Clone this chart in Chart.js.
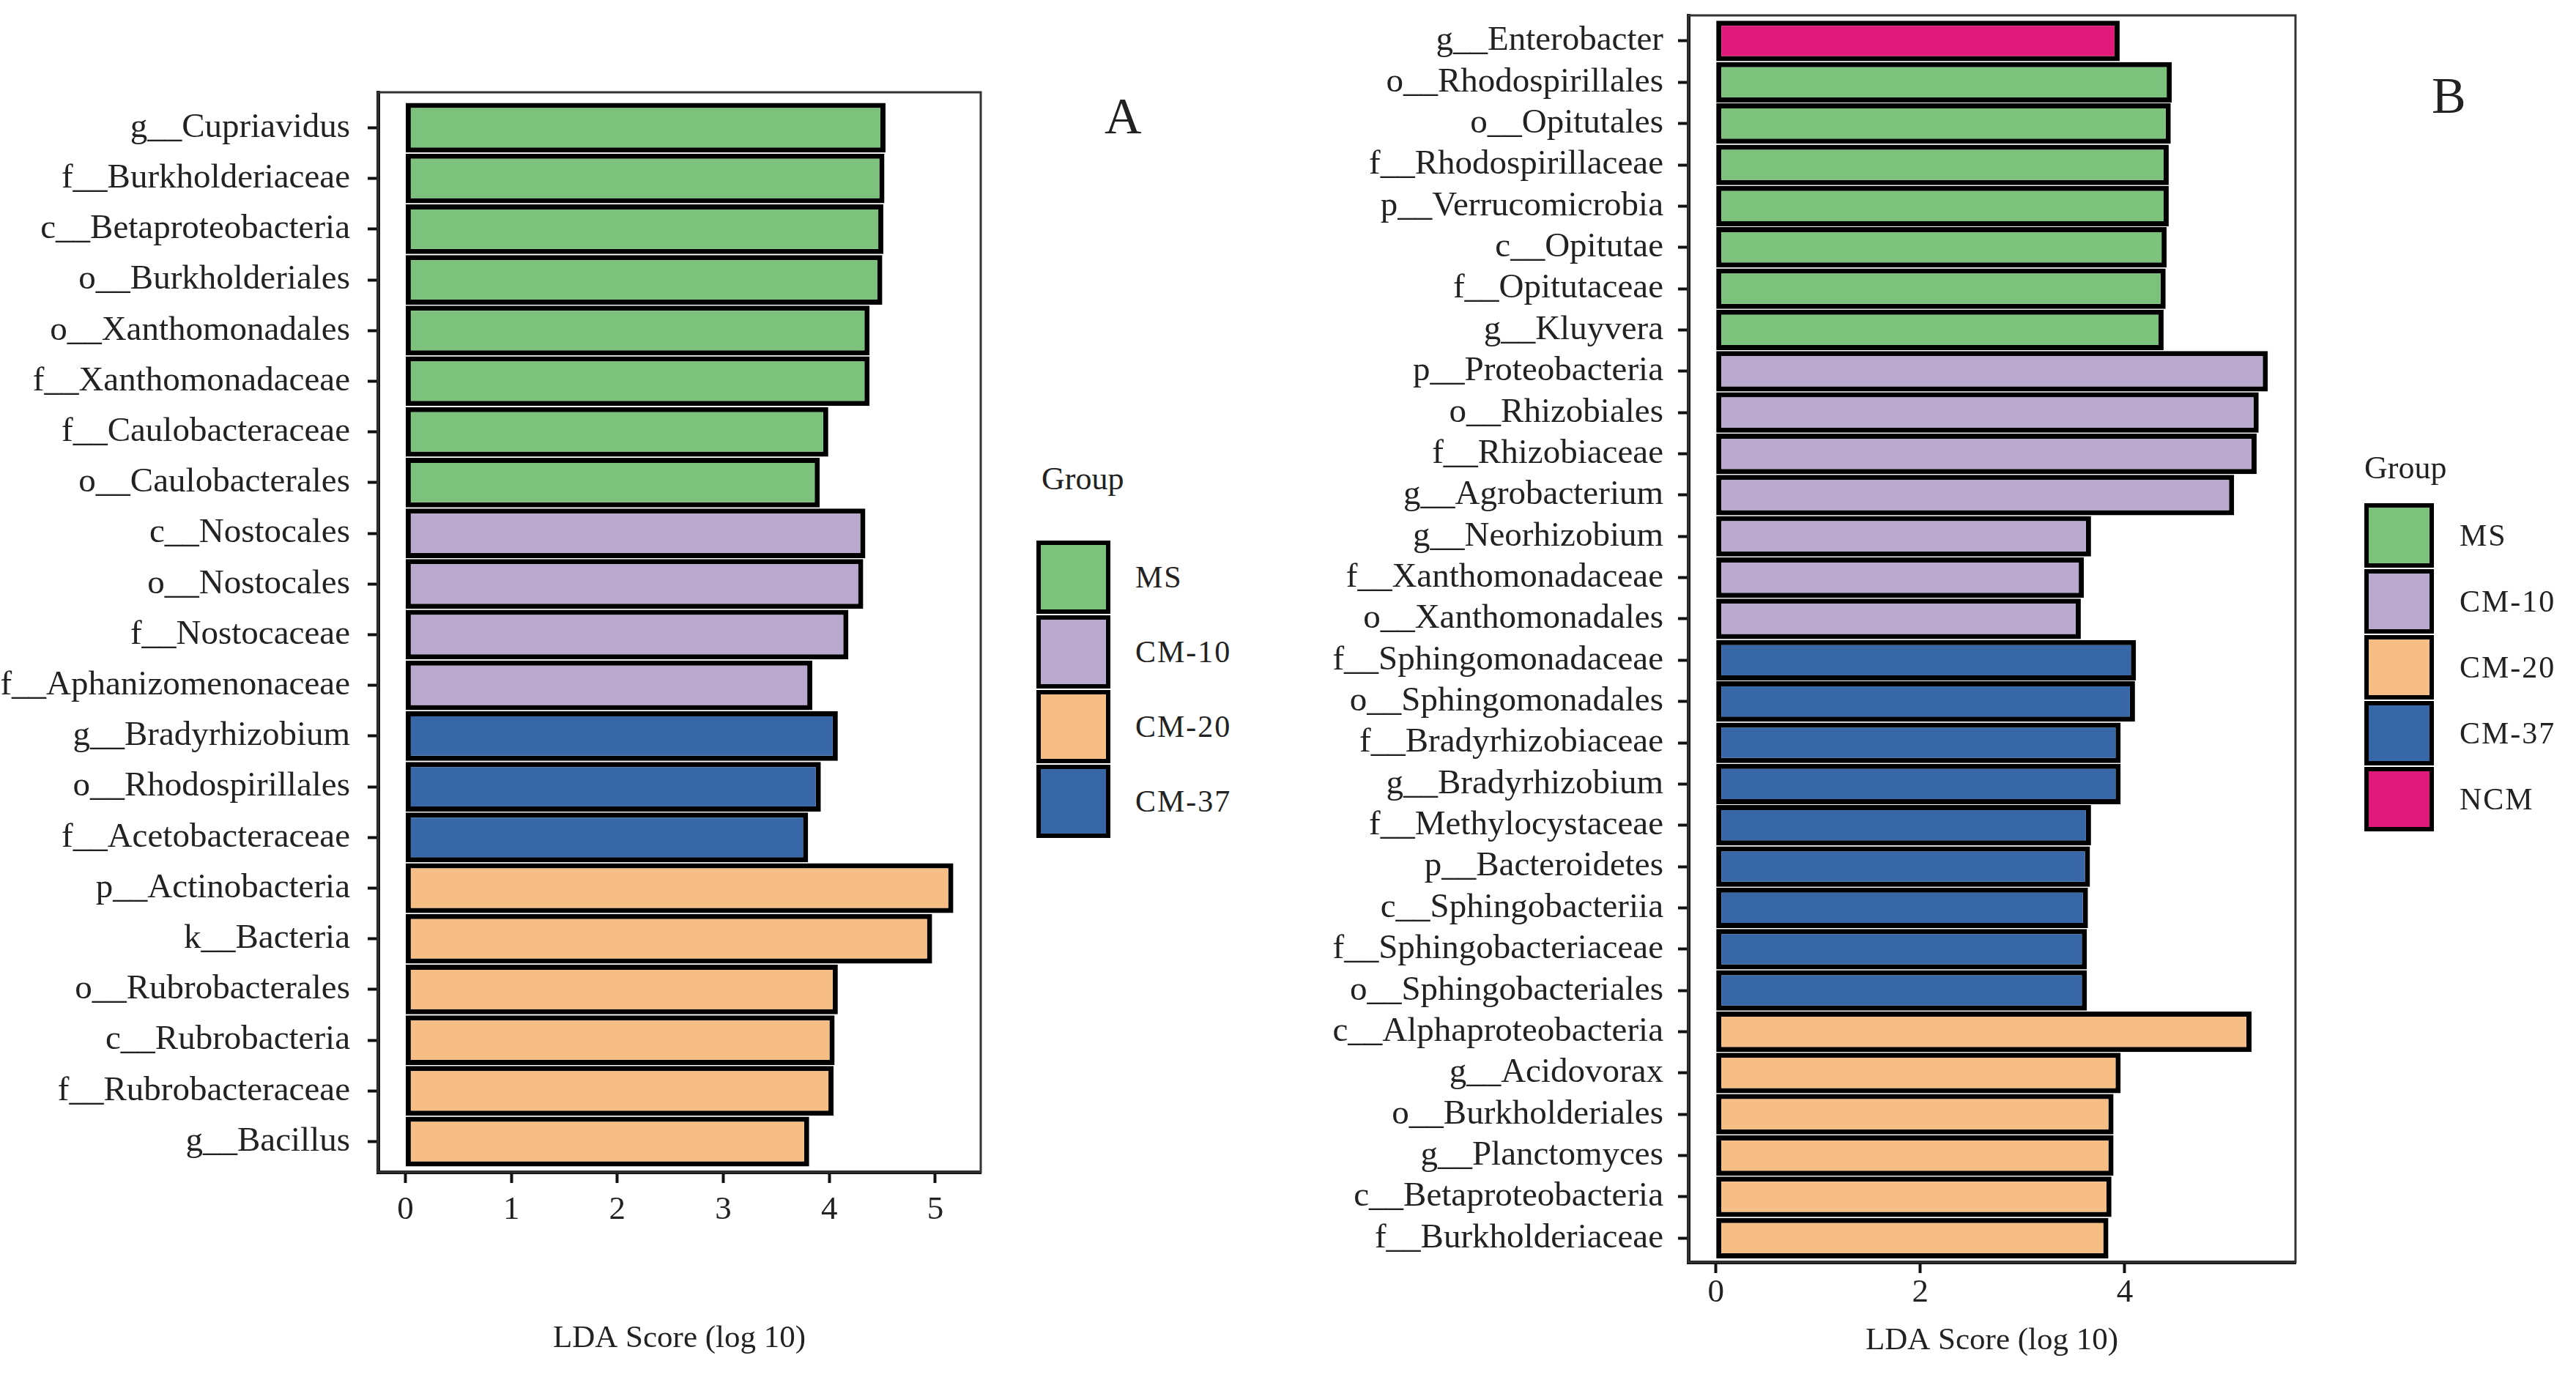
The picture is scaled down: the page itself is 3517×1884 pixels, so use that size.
<!DOCTYPE html>
<html>
<head>
<meta charset="utf-8">
<script src="https://cdn.jsdelivr.net/npm/chart.js@4.4.1/dist/chart.umd.min.js"></script>
<style>
  body { margin: 0; background: #fff; width: 3517px; height: 1884px; position: relative; overflow: hidden; font-family: "Liberation Serif", serif; color: #222; }
  canvas { position: absolute; top: 0; }
  #chartA { left: 0; }
  #chartB { left: 1700px; }
  .panel { position: absolute; font-size: 70px; line-height: 1; }
  .gtitle { position: absolute; font-size: 44px; line-height: 1; }
  .key { position: absolute; box-sizing: border-box; border: 6px solid #000; }
  .ktext { position: absolute; font-size: 42px; line-height: 1; letter-spacing: 2px; }
</style>
</head>
<body>
<canvas id="chartA" width="1400" height="1884"></canvas>
<canvas id="chartB" width="1817" height="1884"></canvas>
<div id="legends"></div>
<script>
// group colours
const groupNames = ['MS', 'CM-10', 'CM-20', 'CM-37', 'NCM'];
const groupColors = ['#7cc27c', '#b9a9cf', '#f6bd85', '#3767a6', '#e0197a'];

// panel A
const taxaA = ['g__Cupriavidus', 'f__Burkholderiaceae', 'c__Betaproteobacteria', 'o__Burkholderiales',
  'o__Xanthomonadales', 'f__Xanthomonadaceae', 'f__Caulobacteraceae', 'o__Caulobacterales',
  'c__Nostocales', 'o__Nostocales', 'f__Nostocaceae', 'f__Aphanizomenonaceae',
  'g__Bradyrhizobium', 'o__Rhodospirillales', 'f__Acetobacteraceae',
  'p__Actinobacteria', 'k__Bacteria', 'o__Rubrobacterales', 'c__Rubrobacteria', 'f__Rubrobacteraceae', 'g__Bacillus'];
const ldaA = [4.53, 4.52, 4.51, 4.50, 4.38, 4.38, 3.99, 3.91,
  4.34, 4.32, 4.18, 3.84,
  4.08, 3.92, 3.80,
  5.17, 4.97, 4.08, 4.05, 4.04, 3.81];
const groupA = ['MS', 'MS', 'MS', 'MS', 'MS', 'MS', 'MS', 'MS',
  'CM-10', 'CM-10', 'CM-10', 'CM-10',
  'CM-37', 'CM-37', 'CM-37',
  'CM-20', 'CM-20', 'CM-20', 'CM-20', 'CM-20', 'CM-20'];
const xTicksA = [0, 1, 2, 3, 4, 5];
const legendA = ['MS', 'CM-10', 'CM-20', 'CM-37'];

// panel B
const taxaB = ['g__Enterobacter', 'o__Rhodospirillales', 'o__Opitutales', 'f__Rhodospirillaceae',
  'p__Verrucomicrobia', 'c__Opitutae', 'f__Opitutaceae', 'g__Kluyvera',
  'p__Proteobacteria', 'o__Rhizobiales', 'f__Rhizobiaceae', 'g__Agrobacterium',
  'g__Neorhizobium', 'f__Xanthomonadaceae', 'o__Xanthomonadales',
  'f__Sphingomonadaceae', 'o__Sphingomonadales', 'f__Bradyrhizobiaceae', 'g__Bradyrhizobium',
  'f__Methylocystaceae', 'p__Bacteroidetes', 'c__Sphingobacteriia', 'f__Sphingobacteriaceae', 'o__Sphingobacteriales',
  'c__Alphaproteobacteria', 'g__Acidovorax', 'o__Burkholderiales', 'g__Planctomyces',
  'c__Betaproteobacteria', 'f__Burkholderiaceae'];
const ldaB = [3.95, 4.46, 4.45, 4.43, 4.43, 4.41, 4.40, 4.38,
  5.40, 5.31, 5.29, 5.07, 3.67, 3.60, 3.57,
  4.11, 4.10, 3.96, 3.96, 3.67, 3.66, 3.64, 3.63, 3.63,
  5.24, 3.96, 3.89, 3.89, 3.87, 3.84];
const groupB = ['NCM', 'MS', 'MS', 'MS', 'MS', 'MS', 'MS', 'MS',
  'CM-10', 'CM-10', 'CM-10', 'CM-10', 'CM-10', 'CM-10', 'CM-10',
  'CM-37', 'CM-37', 'CM-37', 'CM-37', 'CM-37', 'CM-37', 'CM-37', 'CM-37', 'CM-37',
  'CM-20', 'CM-20', 'CM-20', 'CM-20', 'CM-20', 'CM-20'];
const xTicksB = [0, 2, 4];
const legendB = ['MS', 'CM-10', 'CM-20', 'CM-37', 'NCM'];

const colorOf = g => groupColors[groupNames.indexOf(g)];
const FONT = 'Liberation Serif';

// thin frame on top and right, like the ggplot panel border
const framePlugin = {
  id: 'frame',
  afterDraw(chart) {
    const a = chart.chartArea, ctx = chart.ctx;
    ctx.save();
    ctx.strokeStyle = '#333';
    ctx.lineWidth = 3;
    ctx.strokeRect(a.left, a.top, a.right - a.left, a.bottom - a.top);
    ctx.restore();
  }
};

function makeChart(id, taxa, vals, groups, xTicks, opt) {
  const n = taxa.length;
  const top = Math.max(...vals);
  return new Chart(document.getElementById(id), {
    type: 'bar',
    data: {
      datasets: [{
        data: vals.map((v, i) => ({ x: v, y: i })),
        backgroundColor: groups.map(colorOf),
        borderColor: '#000',
        borderWidth: 7,
        borderSkipped: false,
        barPercentage: 0.98,
        categoryPercentage: 1
      }]
    },
    options: {
      indexAxis: 'y',
      responsive: false,
      devicePixelRatio: 1,
      animation: false,
      layout: { padding: { left: 0, right: opt.right, top: opt.top, bottom: 0 } },
      plugins: { legend: { display: false }, tooltip: { enabled: false } },
      scales: {
        y: {
          type: 'linear',
          reverse: true,
          offset: false,
          min: -opt.expTop,
          max: n - 1 + opt.expBot,
          afterBuildTicks: s => { s.ticks = taxa.map((t, i) => ({ value: i })); },
          afterFit: s => { s.width = opt.yWidth; s.paddingTop = 0; s.paddingBottom = 0; },
          ticks: {
            autoSkip: false,
            padding: opt.yPad,
            color: '#222',
            font: { family: FONT, size: 47 },
            callback: v => taxa[v]
          },
          grid: { display: true, offset: false, drawOnChartArea: false, drawTicks: true, tickLength: 14, tickWidth: 4, tickColor: '#111' },
          border: { display: true, color: '#111', width: 5 }
        },
        x: {
          type: 'linear',
          min: -top * 0.05,
          max: top * 1.05,
          afterBuildTicks: s => { s.ticks = xTicks.map(v => ({ value: v })); },
          afterFit: s => { s.height = opt.xHeight; s.paddingLeft = 0; s.paddingRight = 0; },
          ticks: {
            padding: opt.xPad,
            color: '#222',
            font: { family: FONT, size: 45 }
          },
          grid: { display: true, drawOnChartArea: false, drawTicks: true, tickLength: 15, tickWidth: 4, tickColor: '#111' },
          border: { display: true, color: '#111', width: 5 },
          title: {
            display: true,
            text: 'LDA Score (log 10)',
            color: '#222',
            font: { family: FONT, size: 43 },
            padding: { top: 0, bottom: opt.titlePad }
          }
        }
      }
    },
    plugins: [framePlugin]
  });
}

makeChart('chartA', taxaA, ldaA, groupA, xTicksA,
  { right: 61, top: 126, expTop: 0.7, expBot: 0.6, yWidth: 516, yPad: 24, xHeight: 284, xPad: 10, titlePad: 30 });
makeChart('chartB', taxaB, ldaB, groupB, xTicksB,
  { right: 383, top: 21, expTop: 0.62, expBot: 0.58, yWidth: 605, yPad: 20, xHeight: 161, xPad: 0, titlePad: 27 });

// panel letters and group legends
function addDiv(cls, text, css) {
  const d = document.createElement('div');
  d.className = cls;
  if (text) d.textContent = text;
  Object.assign(d.style, css);
  document.getElementById('legends').appendChild(d);
}
function legend(letter, lx, ly, gx, gy, keys, kx, ky, kw, kh, tx) {
  addDiv('panel', letter, { left: lx + 'px', top: ly + 'px' });
  addDiv('gtitle', 'Group', { left: gx + 'px', top: gy + 'px' });
  keys.forEach((g, i) => {
    const y = ky + i * (kh + 2);
    addDiv('key', '', { left: kx + 'px', top: y + 'px', width: kw + 'px', height: kh + 'px', background: colorOf(g) });
    addDiv('ktext', g, { left: tx + 'px', top: (y + kh / 2 - 21) + 'px' });
  });
}
legend('A', 1508, 124, 1422, 632, legendA, 1415, 738, 101, 100, 1550);
legend('B', 3320, 96, 3228, 617, legendB, 3228, 687, 95, 88, 3358);
</script>
</body>
</html>
